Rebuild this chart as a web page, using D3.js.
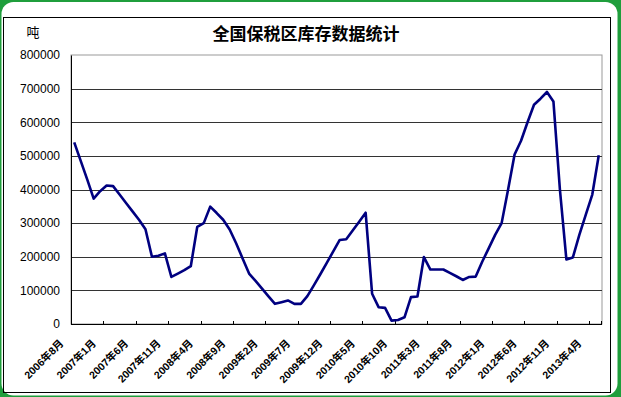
<!DOCTYPE html>
<html>
<head>
<meta charset="utf-8">
<script src="https://cdn.jsdelivr.net/npm/d3@7"></script>
<style>
	html, body { margin: 0; padding: 0; background: #1f9e3c; }
	svg { display: block; }
	.axis text { font-family: "Liberation Sans", Arial, sans-serif; }
</style>
</head>
<body>
<svg id="chart"></svg>
<script>
// chart data
const title = '全国保税区库存数据统计'
const unit = '吨'
const startYear = 2006
const startMonth = 8
const values = [
	540000, 485000, 430000, 373000, 395000, 412000, 410000, 385000, 360000, 335000,
	310000, 282000, 200000, 203000, 210000, 140000, 150000, 160000, 172000, 289000,
	300000, 349000, 330000, 310000, 281000, 240000, 195000, 150000, 128000, 105000,
	82000, 60000, 65000, 70000, 60000, 60000, 83000, 115000, 148000, 182000,
	216000, 250000, 252000, 278000, 304000, 331000, 90000, 50000, 48000, 10000,
	12000, 20000, 80000, 82000, 199000, 162000, 162000, 162000, 152000, 142000,
	131000, 140000, 141000, 185000, 225000, 265000, 300000, 400000, 504000, 545000,
	600000, 652000, 670000, 690000, 662000, 400000, 192000, 198000, 265000, 325000,
	385000, 502000
]
const yTicks = [0, 100000, 200000, 300000, 400000, 500000, 600000, 700000, 800000]
const tickLabels = [
	'2006年8月', '2007年1月', '2007年6月', '2007年11月', '2008年4月', '2008年9月',
	'2009年2月', '2009年7月', '2009年12月', '2010年5月', '2010年10月', '2011年3月',
	'2011年8月', '2012年1月', '2012年6月', '2012年11月', '2013年4月'
]
const labelEvery = 5

// month categories
const months = values.map((v, i) => {
	const m = startMonth - 1 + i
	return `${startYear + Math.floor(m / 12)}年${m % 12 + 1}月`
})
const rows = months.map((m, i) => ({ month: m, value: values[i] }))

const outerWidth = 621
const outerHeight = 397
const margin = { top: 55, right: 19, bottom: 73, left: 71 }
const width = outerWidth - margin.left - margin.right
const height = outerHeight - margin.top - margin.bottom

const svg = d3.select('#chart')
	.attr('width', outerWidth)
	.attr('height', outerHeight)

// white card + black frame
svg.append('rect')
	.attr('x', 1.5).attr('y', 2)
	.attr('width', 616).attr('height', 393.5)
	.attr('rx', 12)
	.attr('fill', '#fff')

svg.append('rect')
	.attr('x', 3.5).attr('y', 17.5)
	.attr('width', 607).attr('height', 375)
	.attr('fill', 'none')
	.attr('stroke', '#000')

svg.append('text')
	.attr('x', 306).attr('y', 40)
	.attr('text-anchor', 'middle')
	.style('font-family', '"Noto Sans CJK SC", sans-serif')
	.style('font-weight', 'bold')
	.style('font-size', '17px')
	.text(title)

svg.append('text')
	.attr('x', 33).attr('y', 37)
	.attr('text-anchor', 'middle')
	.style('font-family', '"Noto Sans CJK SC", sans-serif')
	.style('font-size', '13px')
	.text(unit)

const g = svg.append('g')
	.attr('transform', `translate(${margin.left}, ${margin.top})`)

// scales
const x = d3.scaleBand()
	.domain(months)
	.range([0, width])
	.padding(0)

const y = d3.scaleLinear()
	.domain([0, 800000])
	.range([height, 0])

// plot frame
g.append('rect')
	.attr('width', width).attr('height', height)
	.attr('fill', '#fff')
	.attr('stroke', '#999')

// gridlines
g.append('g')
	.selectAll('line')
	.data(yTicks.slice(1, -1))
	.join('line')
	.attr('x1', 0).attr('x2', width)
	.attr('y1', d => Math.round(y(d)) + 0.5)
	.attr('y2', d => Math.round(y(d)) + 0.5)
	.attr('stroke', '#333')

// y axis
g.append('g')
	.attr('class', 'axis axis--y')
	.call(d3.axisLeft(y)
		.tickValues(yTicks)
		.tickSize(0)
		.tickPadding(11)
		.tickFormat(d3.format('d'))
	)
	.call(a => a.select('.domain').attr('stroke', '#000'))
	.call(a => a.selectAll('text').style('font-size', '12px').attr('fill', '#000'))

// x axis
const tickMonths = months.filter((m, i) => i % labelEvery === 0)
const xAxis = g.append('g')
	.attr('class', 'axis axis--x')
	.attr('transform', `translate(0, ${height})`)

xAxis.append('line')
	.attr('x1', 0).attr('x2', width)
	.attr('y1', 0.5).attr('y2', 0.5)
	.attr('stroke', '#000')

xAxis.selectAll('line.tick')
	.data(tickMonths.slice(1).concat([null]))
	.join('line')
	.attr('class', 'tick')
	.attr('x1', d => d ? Math.round(x(d)) + 0.5 : width - 0.5)
	.attr('x2', d => d ? Math.round(x(d)) + 0.5 : width - 0.5)
	.attr('y1', -3).attr('y2', 1)
	.attr('stroke', '#000')

xAxis.selectAll('text')
	.data(tickMonths)
	.join('text')
	.attr('transform', d => `translate(${x(d) + x.bandwidth() / 2 - 10}, 20) rotate(-45)`)
	.attr('text-anchor', 'end')
	.style('font-size', '10.5px')
	.style('font-weight', 'bold')
	.style('font-family', '"Liberation Sans", "Noto Sans CJK SC", sans-serif')
	.text((d, i) => tickLabels[i])

// line
const line = d3.line()
	.x(d => x(d.month) + x.bandwidth() / 2)
	.y(d => y(d.value))

g.append('path')
	.datum(rows)
	.attr('d', line)
	.attr('fill', 'none')
	.attr('stroke', '#000080')
	.attr('stroke-width', 2.6)
	.attr('stroke-linejoin', 'round')
</script>
</body>
</html>
